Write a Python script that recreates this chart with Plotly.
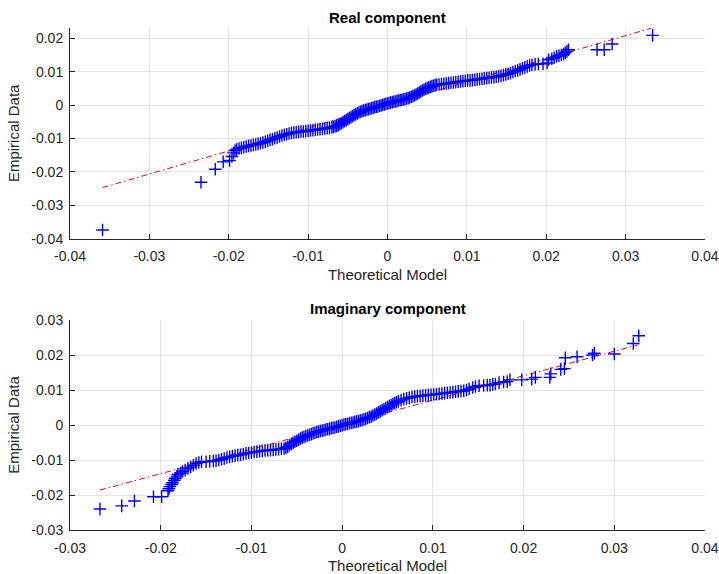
import plotly.graph_objects as go

# ---------------- Real component (top) ----------------
real_x = [
    -0.0359, -0.0235, -0.0217, -0.0207, -0.0199, -0.0196, -0.0194, -0.0192, -0.0190, -0.0187,
    -0.0184, -0.0181, -0.0178, -0.0175, -0.0172, -0.0169, -0.0166, -0.0163, -0.0160, -0.0157,
    -0.0154, -0.0151, -0.0148, -0.0145, -0.0142, -0.0139, -0.0136, -0.0133, -0.0130, -0.0127,
    -0.0124, -0.0121, -0.0118, -0.0115, -0.0112, -0.0109, -0.0106, -0.0103, -0.0100, -0.0097,
    -0.0094, -0.0091, -0.0088, -0.0085, -0.0082, -0.0079, -0.0076, -0.0073, -0.0070, -0.0068,
    -0.0066, -0.0064, -0.0062, -0.0060, -0.0058, -0.0056, -0.0054, -0.0052, -0.0050, -0.0048,
    -0.0046, -0.0044, -0.0042, -0.0040, -0.0038, -0.0036, -0.0034, -0.0032, -0.0030, -0.0028,
    -0.0026, -0.0024, -0.0022, -0.0020, -0.0018, -0.0016, -0.0014, -0.0012, -0.0010, -0.0008,
    -0.0006, -0.0004, -0.0002, 0.0000, 0.0002, 0.0004, 0.0006, 0.0008, 0.0010, 0.0012,
    0.0014, 0.0016, 0.0018, 0.0020, 0.0022, 0.0024, 0.0026, 0.0028, 0.0030, 0.0032,
    0.0034, 0.0036, 0.0038, 0.0040, 0.0042, 0.0044, 0.0046, 0.0048, 0.0050, 0.0052,
    0.0054, 0.0056, 0.0058, 0.0060, 0.0062, 0.0065, 0.0068, 0.0071, 0.0074, 0.0077,
    0.0080, 0.0083, 0.0086, 0.0089, 0.0092, 0.0095, 0.0098, 0.0101, 0.0104, 0.0107,
    0.0110, 0.0113, 0.0116, 0.0119, 0.0122, 0.0125, 0.0128, 0.0131, 0.0134, 0.0137,
    0.0140, 0.0143, 0.0146, 0.0149, 0.0152, 0.0155, 0.0158, 0.0161, 0.0164, 0.0167,
    0.0170, 0.0173, 0.0176, 0.0179, 0.0182, 0.0186, 0.0190, 0.0196, 0.0201, 0.0203,
    0.0207, 0.0210, 0.0213, 0.0216, 0.0219, 0.0222, 0.0224, 0.0226, 0.0228, 0.0264,
    0.0273, 0.0283, 0.0334,
]
real_y = [
    -0.0374, -0.0231, -0.0192, -0.0170, -0.0166, -0.0154, -0.0143, -0.0136, -0.0132, -0.0130,
    -0.0128, -0.0126, -0.0124, -0.0122, -0.0121, -0.0119, -0.0118, -0.0116, -0.0114, -0.0112,
    -0.0110, -0.0107, -0.0104, -0.0102, -0.0099, -0.0097, -0.0094, -0.0091, -0.0089, -0.0087,
    -0.0085, -0.0083, -0.0082, -0.0081, -0.0080, -0.0079, -0.0079, -0.0078, -0.0077, -0.0076,
    -0.0075, -0.0074, -0.0073, -0.0072, -0.0071, -0.0070, -0.0069, -0.0068, -0.0066, -0.0065,
    -0.0063, -0.0062, -0.0060, -0.0057, -0.0054, -0.0051, -0.0048, -0.0045, -0.0042, -0.0039,
    -0.0036, -0.0033, -0.0030, -0.0027, -0.0025, -0.0022, -0.0020, -0.0018, -0.0016, -0.0015,
    -0.0013, -0.0012, -0.0011, -0.0009, -0.0008, -0.0006, -0.0005, -0.0004, -0.0002, -0.0001,
    0.0001, 0.0002, 0.0004, 0.0005, 0.0006, 0.0008, 0.0009, 0.0010, 0.0011, 0.0012,
    0.0014, 0.0015, 0.0016, 0.0017, 0.0018, 0.0020, 0.0021, 0.0023, 0.0025, 0.0027,
    0.0029, 0.0032, 0.0035, 0.0038, 0.0041, 0.0044, 0.0046, 0.0049, 0.0051, 0.0053,
    0.0055, 0.0057, 0.0058, 0.0060, 0.0061, 0.0062, 0.0063, 0.0064, 0.0065, 0.0066,
    0.0067, 0.0068, 0.0069, 0.0070, 0.0071, 0.0072, 0.0073, 0.0074, 0.0074, 0.0075,
    0.0076, 0.0077, 0.0078, 0.0079, 0.0080, 0.0081, 0.0082, 0.0083, 0.0084, 0.0085,
    0.0086, 0.0088, 0.0090, 0.0092, 0.0094, 0.0096, 0.0099, 0.0102, 0.0104, 0.0107,
    0.0110, 0.0113, 0.0116, 0.0119, 0.0121, 0.0122, 0.0123, 0.0124, 0.0126, 0.0136,
    0.0139, 0.0142, 0.0146, 0.0148, 0.0150, 0.0153, 0.0157, 0.0161, 0.0166, 0.0166,
    0.0166, 0.0183, 0.0209,
]
real_fit_x = [-0.0359, 0.0333]
real_fit_y = [-0.0247, 0.0231]

# ---------------- Imaginary component (bottom) ----------------
imag_x = [
    -0.0267, -0.0243, -0.0229, -0.0208, -0.0199, -0.0192, -0.0191, -0.0190, -0.0188, -0.0187,
    -0.0185, -0.0184, -0.0182, -0.0181, -0.0178, -0.0176, -0.0173, -0.0170, -0.0167, -0.0164,
    -0.0161, -0.0158, -0.0155, -0.0150, -0.0146, -0.0142, -0.0139, -0.0136, -0.0133, -0.0130,
    -0.0127, -0.0124, -0.0121, -0.0118, -0.0115, -0.0112, -0.0109, -0.0106, -0.0103, -0.0100,
    -0.0097, -0.0094, -0.0091, -0.0088, -0.0085, -0.0082, -0.0079, -0.0076, -0.0073, -0.0070,
    -0.0067, -0.0064, -0.0062, -0.0060, -0.0058, -0.0056, -0.0054, -0.0052, -0.0050, -0.0048,
    -0.0046, -0.0044, -0.0042, -0.0040, -0.0038, -0.0036, -0.0034, -0.0032, -0.0030, -0.0028,
    -0.0026, -0.0024, -0.0022, -0.0020, -0.0018, -0.0016, -0.0014, -0.0012, -0.0010, -0.0008,
    -0.0006, -0.0004, -0.0002, 0.0000, 0.0002, 0.0004, 0.0006, 0.0008, 0.0010, 0.0012,
    0.0014, 0.0016, 0.0018, 0.0020, 0.0022, 0.0024, 0.0026, 0.0028, 0.0030, 0.0032,
    0.0034, 0.0036, 0.0038, 0.0040, 0.0042, 0.0044, 0.0046, 0.0048, 0.0050, 0.0052,
    0.0054, 0.0056, 0.0058, 0.0060, 0.0062, 0.0065, 0.0068, 0.0071, 0.0074, 0.0077,
    0.0080, 0.0083, 0.0086, 0.0089, 0.0092, 0.0095, 0.0098, 0.0101, 0.0104, 0.0107,
    0.0110, 0.0113, 0.0116, 0.0119, 0.0122, 0.0125, 0.0128, 0.0131, 0.0134, 0.0137,
    0.0140, 0.0144, 0.0147, 0.0151, 0.0156, 0.0160, 0.0163, 0.0166, 0.0169, 0.0173,
    0.0178, 0.0182, 0.0185, 0.0198, 0.0209, 0.0213, 0.0229, 0.0230, 0.0241, 0.0245,
    0.0246, 0.0259, 0.0276, 0.0278, 0.0300, 0.0321, 0.0327,
]
imag_y = [
    -0.0240, -0.0231, -0.0217, -0.0205, -0.0205, -0.0188, -0.0182, -0.0176, -0.0170, -0.0165,
    -0.0158, -0.0152, -0.0146, -0.0141, -0.0137, -0.0133, -0.0129, -0.0124, -0.0120, -0.0115,
    -0.0110, -0.0107, -0.0105, -0.0105, -0.0104, -0.0103, -0.0102, -0.0100, -0.0098, -0.0096,
    -0.0093, -0.0091, -0.0089, -0.0088, -0.0086, -0.0085, -0.0083, -0.0081, -0.0080, -0.0079,
    -0.0077, -0.0076, -0.0075, -0.0074, -0.0073, -0.0072, -0.0072, -0.0071, -0.0070, -0.0069,
    -0.0068, -0.0067, -0.0065, -0.0062, -0.0058, -0.0054, -0.0051, -0.0048, -0.0045, -0.0042,
    -0.0039, -0.0036, -0.0034, -0.0032, -0.0030, -0.0028, -0.0026, -0.0024, -0.0022, -0.0020,
    -0.0019, -0.0017, -0.0016, -0.0015, -0.0013, -0.0012, -0.0011, -0.0009, -0.0008, -0.0007,
    -0.0005, -0.0004, -0.0002, -0.0001, 0.0001, 0.0002, 0.0003, 0.0005, 0.0006, 0.0007,
    0.0009, 0.0010, 0.0011, 0.0013, 0.0014, 0.0016, 0.0018, 0.0020, 0.0022, 0.0024,
    0.0027, 0.0030, 0.0033, 0.0036, 0.0039, 0.0042, 0.0045, 0.0048, 0.0051, 0.0054,
    0.0057, 0.0060, 0.0063, 0.0065, 0.0068, 0.0071, 0.0074, 0.0076, 0.0078, 0.0080,
    0.0081, 0.0082, 0.0083, 0.0084, 0.0085, 0.0086, 0.0086, 0.0087, 0.0088, 0.0089,
    0.0090, 0.0091, 0.0092, 0.0093, 0.0094, 0.0095, 0.0096, 0.0097, 0.0098, 0.0100,
    0.0103, 0.0107, 0.0110, 0.0112, 0.0113, 0.0114, 0.0114, 0.0116, 0.0117, 0.0121,
    0.0123, 0.0124, 0.0129, 0.0129, 0.0131, 0.0136, 0.0136, 0.0146, 0.0159, 0.0161,
    0.0192, 0.0195, 0.0200, 0.0205, 0.0203, 0.0233, 0.0255,
]
imag_fit_x = [-0.0267, 0.0326]
imag_fit_y = [-0.0186, 0.0229]

# ---------------- Ticks ----------------
real_xticks = [-0.04, -0.03, -0.02, -0.01, 0, 0.01, 0.02, 0.03, 0.04]
real_xlabels = ["-0.04", "-0.03", "-0.02", "-0.01", "0", "0.01", "0.02", "0.03", "0.04"]
real_yticks = [-0.04, -0.03, -0.02, -0.01, 0, 0.01, 0.02]
real_ylabels = ["-0.04", "-0.03", "-0.02", "-0.01", "0", "0.01", "0.02"]
imag_xticks = [-0.03, -0.02, -0.01, 0, 0.01, 0.02, 0.03, 0.04]
imag_xlabels = ["-0.03", "-0.02", "-0.01", "0", "0.01", "0.02", "0.03", "0.04"]
imag_yticks = [-0.03, -0.02, -0.01, 0, 0.01, 0.02, 0.03]
imag_ylabels = ["-0.03", "-0.02", "-0.01", "0", "0.01", "0.02", "0.03"]

FONT = "Liberation Sans, Arial, Helvetica, sans-serif"
AX = "#262626"
GRID = "#e3e3e3"

marker = dict(symbol="cross-thin", size=9, line=dict(color="#0000ff", width=1.4), color="#0000ff")
fitline = dict(color="#ff0000", width=1, dash="6px,3px,1.5px,3px")

fig = go.Figure()
fig.add_trace(go.Scatter(x=real_fit_x, y=real_fit_y, mode="lines", line=fitline,
                         xaxis="x", yaxis="y", showlegend=False, hoverinfo="skip"))
fig.add_trace(go.Scatter(x=real_x, y=real_y, mode="markers", marker=marker,
                         xaxis="x", yaxis="y", showlegend=False))
fig.add_trace(go.Scatter(x=imag_fit_x, y=imag_fit_y, mode="lines", line=fitline,
                         xaxis="x2", yaxis="y2", showlegend=False, hoverinfo="skip"))
fig.add_trace(go.Scatter(x=imag_x, y=imag_y, mode="markers", marker=marker,
                         xaxis="x2", yaxis="y2", showlegend=False))

def axis_style(**kw):
    base = dict(showline=True, linecolor=AX, linewidth=1, ticks="inside", ticklen=5,
                tickcolor=AX, tickwidth=1, showgrid=True, gridcolor=GRID, gridwidth=1,
                zeroline=False, tickfont=dict(family=FONT, size=14, color=AX),
                mirror=False, fixedrange=True, ticklabeloverflow="allow", automargin=False)
    base.update(kw)
    return base

title_font = dict(family=FONT, size=15, color=AX)

fig.update_layout(
    width=719, height=574,
    margin=dict(l=70, r=14, t=28, b=44),
    paper_bgcolor="white", plot_bgcolor="white",
    font=dict(family=FONT, color=AX),
    xaxis=axis_style(domain=[0, 1], anchor="y", range=[-0.04, 0.040001],
                     tickvals=real_xticks, ticktext=real_xlabels, ticklabelstandoff=5,
                     title=dict(text="Theoretical Model", font=title_font, standoff=6)),
    yaxis=axis_style(domain=[0.5803, 1], anchor="x", range=[-0.04, 0.0231],
                     tickvals=real_yticks, ticktext=real_ylabels, ticklabelstandoff=3,
                     title=dict(text="Empirical Data", font=title_font, standoff=8)),
    xaxis2=axis_style(domain=[0, 1], anchor="y2", range=[-0.03, 0.040001],
                      tickvals=imag_xticks, ticktext=imag_xlabels, ticklabelstandoff=5,
                      title=dict(text="Theoretical Model", font=title_font, standoff=6)),
    yaxis2=axis_style(domain=[0, 0.4183], anchor="x2", range=[-0.03, 0.030001],
                      tickvals=imag_yticks, ticktext=imag_ylabels, ticklabelstandoff=3,
                      title=dict(text="Empirical Data", font=title_font, standoff=8)),
    annotations=[
        dict(text="<b>Real component</b>", xref="paper", yref="paper", x=0.5, y=1.0,
             yshift=11, showarrow=False, yanchor="middle",
             font=dict(family=FONT, size=15, color="black")),
        dict(text="<b>Imaginary component</b>", xref="paper", yref="paper", x=0.5, y=0.4183,
             yshift=12, showarrow=False, yanchor="middle",
             font=dict(family=FONT, size=15, color="black")),
    ],
)

# place the figure at the page's top-left corner (no default body margin / scrollbars)
fig.write_html("out.html",
               config={"displayModeBar": False},
               post_script="document.body.style.margin='0';document.body.style.overflow='hidden';")
